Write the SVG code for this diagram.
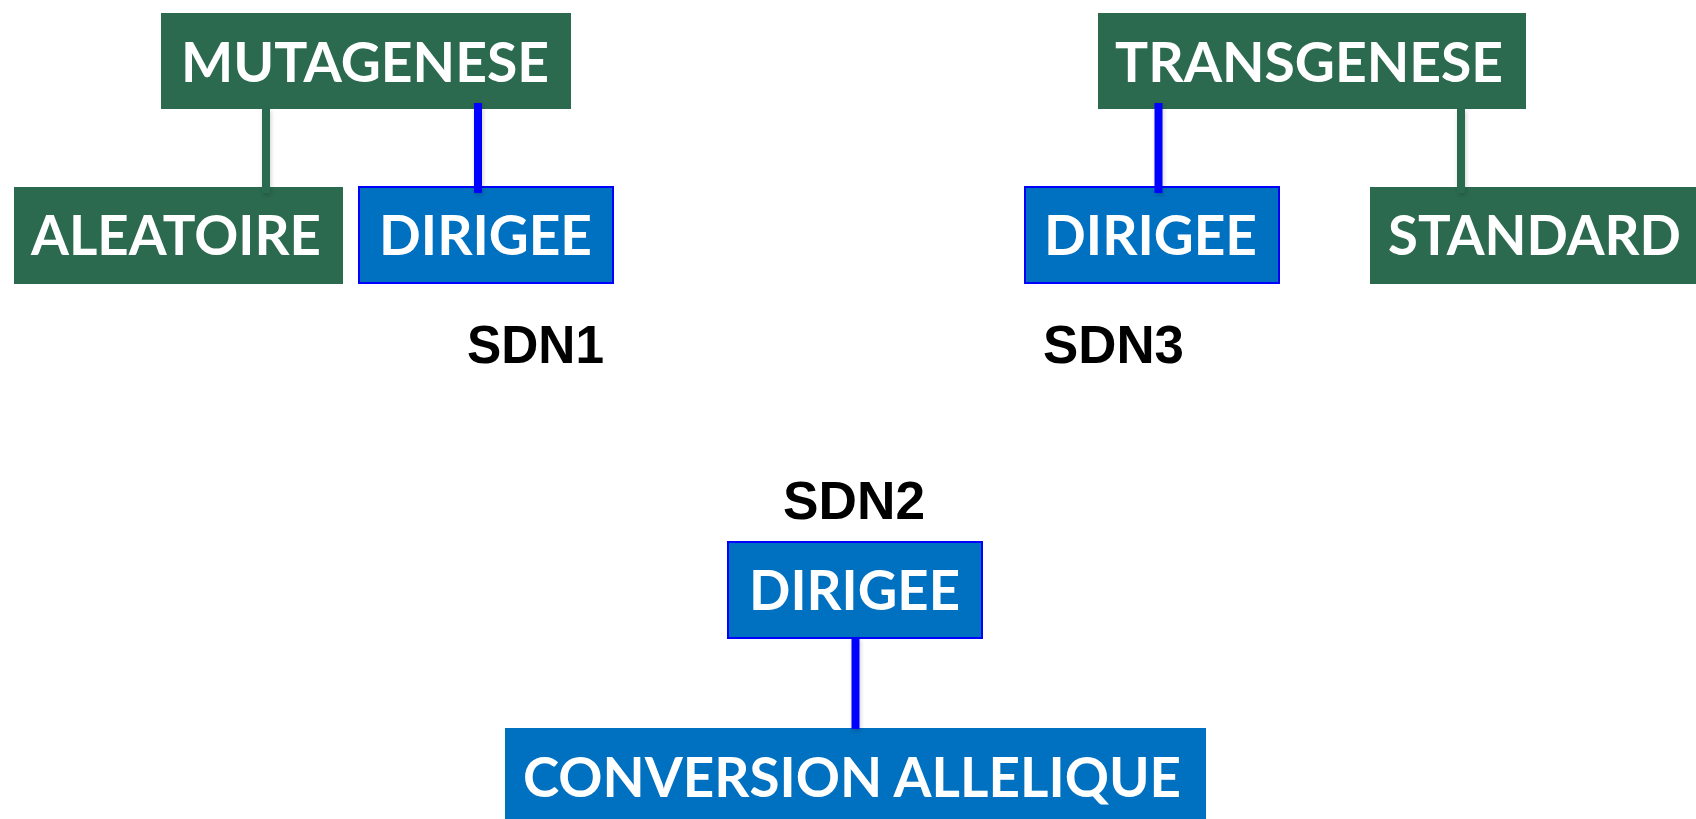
<svg xmlns="http://www.w3.org/2000/svg" width="1696" height="819" viewBox="0 0 1696 819">
  <defs>
    <filter id="soft" filterUnits="userSpaceOnUse" x="0" y="0" width="1696" height="819">
      <feDropShadow dx="1" dy="2" stdDeviation="2" flood-color="#000" flood-opacity="0.18"/>
    </filter>
    <style>
      .green { fill: #2b6a4f; }
      .blue { fill: #0070c0; }
      .blue-edged { fill: #0070c0; stroke: #0000ff; stroke-width: 2; }
      .label { font-family: Lato, "Open Sans", "DejaVu Sans", sans-serif; font-weight: 700; font-size: 56px; fill: #ffffff; }
      .tag { font-family: "Liberation Sans", Arial, sans-serif; font-weight: 700; font-size: 54px; fill: #000000; }
      .link-green { stroke: #2b6a4f; stroke-width: 8; fill: none; filter: url(#soft); }
      .link-blue { stroke: #0000ff; stroke-width: 8; fill: none; filter: url(#soft); }
    </style>
  </defs>
  <rect width="1696" height="819" fill="#ffffff"/>

  <g id="mutagenese">
    <rect class="green" x="161" y="13" width="410" height="96"/>
    <text class="label" x="181" y="82" textLength="368" lengthAdjust="spacingAndGlyphs">MUTAGENESE</text>
  </g>
  <g id="aleatoire">
    <rect class="green" x="14" y="187" width="329" height="97"/>
    <text class="label" x="31" y="255" textLength="290" lengthAdjust="spacingAndGlyphs">ALEATOIRE</text>
  </g>
  <g id="dirigee-sdn1">
    <rect class="blue-edged" x="359" y="187" width="254" height="96"/>
    <text class="label" x="379" y="255" textLength="213" lengthAdjust="spacingAndGlyphs">DIRIGEE</text>
  </g>
  <g id="sdn1">
    <text class="tag" x="467" y="363" textLength="137" lengthAdjust="spacingAndGlyphs">SDN1</text>
  </g>

  <g id="transgenese">
    <rect class="green" x="1098" y="13" width="428" height="96"/>
    <text class="label" x="1115" y="82" textLength="388" lengthAdjust="spacingAndGlyphs">TRANSGENESE</text>
  </g>
  <g id="dirigee-sdn3">
    <rect class="blue-edged" x="1025" y="187" width="254" height="96"/>
    <text class="label" x="1044" y="255" textLength="213" lengthAdjust="spacingAndGlyphs">DIRIGEE</text>
  </g>
  <g id="standard">
    <rect class="green" x="1370" y="187" width="326" height="97"/>
    <text class="label" x="1388" y="255" textLength="293" lengthAdjust="spacingAndGlyphs">STANDARD</text>
  </g>
  <g id="sdn3">
    <text class="tag" x="1043" y="363" textLength="141" lengthAdjust="spacingAndGlyphs">SDN3</text>
  </g>

  <g id="sdn2">
    <text class="tag" x="783" y="519" textLength="142" lengthAdjust="spacingAndGlyphs">SDN2</text>
  </g>
  <g id="dirigee-sdn2">
    <rect class="blue-edged" x="728" y="542" width="254" height="96"/>
    <text class="label" x="749" y="610" textLength="211" lengthAdjust="spacingAndGlyphs">DIRIGEE</text>
  </g>
  <g id="conversion-allelique">
    <rect class="blue" x="505" y="728" width="701" height="91"/>
    <text class="label" x="523" y="797" textLength="658" lengthAdjust="spacingAndGlyphs">CONVERSION ALLELIQUE</text>
  </g>

  <g id="connectors">
    <line class="link-green" x1="266" y1="109" x2="266" y2="193"/>
    <line class="link-blue" x1="478" y1="103" x2="478" y2="193"/>
    <line class="link-blue" x1="1158.5" y1="103" x2="1158.5" y2="193"/>
    <line class="link-green" x1="1461" y1="109" x2="1461" y2="193"/>
    <line class="link-blue" x1="855.5" y1="638" x2="855.5" y2="729"/>
  </g>
</svg>
